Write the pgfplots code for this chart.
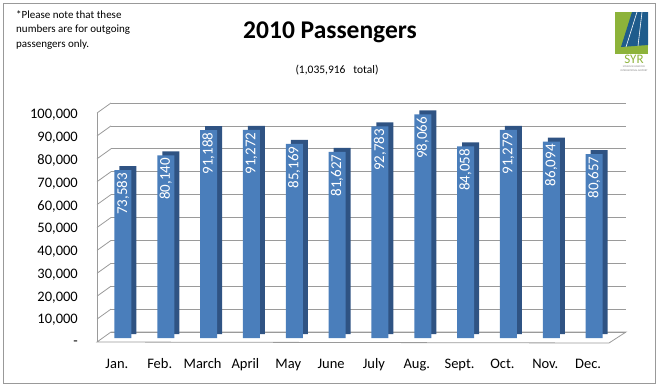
\documentclass[border=0pt]{standalone}
\usepackage{pgfplots}
\pgfplotsset{compat=1.18}
\usepackage{fontspec}
\setmainfont{Carlito}
\definecolor{barfront}{HTML}{4A7EBB}
\definecolor{barside}{HTML}{2F5383}
\definecolor{gridgray}{HTML}{9A9A9A}
\definecolor{logogreen}{HTML}{8DB33A}
\definecolor{logoblue}{HTML}{1F5C8C}
\begin{document}
\begin{tikzpicture}[x=1pt,y=1pt]
\path[use as bounding box] (0,0) rectangle (662,-389);
\draw[gray!80, line width=0.8pt] (3,-3) rectangle (655,-383);
% note
\node[anchor=north west, align=left, font=\fontsize{11}{14.5}\selectfont, inner sep=0pt] at (16,-10)
  {*Please note that these\\numbers are for outgoing\\passengers only.};
% title
\node[font=\fontsize{25.5}{28}\selectfont\bfseries] at (330,-32) {2010 Passengers};
\node[font=\fontsize{11.5}{14}\selectfont] at (337,-70) {(1,035,916~~~total)};
% logo
\fill[logogreen] (615,-12) rectangle (648,-54);
\fill[logoblue] (632,-12) -- (648,-12) -- (648,-45) -- (621,-47) -- cycle;
\draw[white, line width=0.6pt] (637,-12) -- (626,-47);
\draw[white, line width=0.6pt] (642,-12) -- (638,-46);
\node[logogreen, font=\fontsize{13}{13}\selectfont, inner sep=0pt] at (634,-59) {SYR};
\node[gray, font=\fontsize{2.6}{3.4}\selectfont, align=center, inner sep=0pt, anchor=north] at (634,-66) {SYRACUSE HANCOCK\\INTERNATIONAL AIRPORT};

% back wall axis
\begin{axis}[
  at={(111pt,-332pt)}, anchor=south west,
  scale only axis, width=515pt, height=229pt,
  xmin=-0.5, xmax=11.5, ymin=0, ymax=100000,
  scaled y ticks=false,
  axis line style={draw=none},
  xtick=\empty, ytick={0,10000,20000,30000,40000,50000,60000,70000,80000,90000,100000}, yticklabels={},
  major tick length=0pt,
  ymajorgrids, grid style={gridgray, line width=0.8pt},
  clip=false,
]
\pgfplotsinvokeforeach{10000,20000,30000,40000,50000,60000,70000,80000,90000,100000}{
  \draw[gridgray, line width=0.8pt] ([shift={(-14pt,-10pt)}]axis cs:-0.5,#1) -- (axis cs:-0.5,#1);
}
\draw[gridgray, line width=0.8pt] ([shift={(-14pt,-10pt)}]axis cs:-0.5,0) -- ([shift={(-14pt,-10pt)}]axis cs:-0.5,100000);
\draw[gridgray, line width=0.8pt] (axis cs:-0.5,0) -- (axis cs:11.5,0) -- ([shift={(-17pt,-11pt)}]axis cs:11.5,0) -- ([shift={(-14pt,-10pt)}]axis cs:-0.5,0) -- cycle;
\end{axis}

% bar axis
\begin{axis}[
  at={(101.5pt,-338pt)}, anchor=south west,
  scale only axis, width=514pt, height=228pt,
  xmin=-0.5, xmax=11.5, ymin=0, ymax=100000,
  scaled y ticks=false,
  axis line style={draw=none},
  major tick length=0pt,
  xtick={0,1,2,3,4,5,6,7,8,9,10,11},
  xticklabels={Jan.,Feb.,March,April,May,June,July,Aug.,Sept.,Oct.,Nov.,Dec.},
  xticklabel style={anchor=base, yshift=-30pt, xshift=-6pt, font=\fontsize{14.5}{16}\selectfont},
  ytick={0,10000,20000,30000,40000,50000,60000,70000,80000,90000,100000},
  yticklabels={{-\hspace{6pt}},{10,000},{20,000},{30,000},{40,000},{50,000},{60,000},{70,000},{80,000},{90,000},{100,000}},
  yticklabel style={anchor=east, inner sep=0pt, xshift=-23.5pt, yshift=-5pt, font=\fontsize{14.5}{16}\selectfont},
  ybar, bar width=17pt,
  clip=false,
]
\addplot[ybar, bar shift=0pt, fill=barside, draw=none, xshift=5pt, yshift=4pt]
  coordinates {(0,73583) (1,80140) (2,91188) (3,91272) (4,85169) (5,81627) (6,92783) (7,98066) (8,84058) (9,91279) (10,86094) (11,80657)};
\addplot[ybar, bar shift=0pt, fill=barfront, draw=none,
  nodes near coords={\pgfmathprintnumber[fixed, precision=0, 1000 sep={,}, assume math mode=true]{\pgfplotspointmeta}},
  every node near coord/.append style={rotate=90, anchor=east, inner sep=2.5pt, text=white, font=\fontsize{15}{16}\selectfont},
]
  coordinates {(0,73583) (1,80140) (2,91188) (3,91272) (4,85169) (5,81627) (6,92783) (7,98066) (8,84058) (9,91279) (10,86094) (11,80657)};
\end{axis}
\end{tikzpicture}
\end{document}
